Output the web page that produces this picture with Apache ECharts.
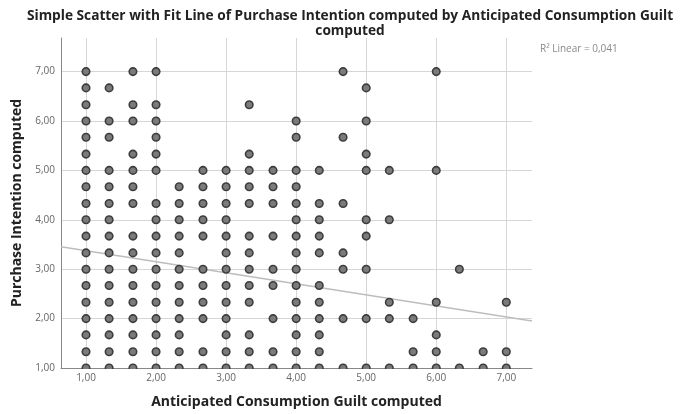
<!DOCTYPE html>
<html>
<head>
<meta charset="utf-8">
<script src="https://cdn.jsdelivr.net/npm/echarts@6/dist/echarts.min.js"></script>
<style>
  html, body { margin: 0; padding: 0; background: #fff; }
  #chart { width: 680px; height: 414px; }
</style>
</head>
<body>
<div id="chart"></div>
<script>
// Purchase Intention (y) against Anticipated Consumption Guilt (x).
// Each row lists the guilt scores observed at one intention level.
const rowLevels = [7.00, 6.67, 6.33, 6.00, 5.67, 5.33, 5.00, 4.67, 4.33, 4.00,
                   3.67, 3.33, 3.00, 2.67, 2.33, 2.00, 1.67, 1.33, 1.00];
const guiltByRow = [
  [1, 1.67, 2, 4.67, 6],
  [1, 1.33, 5],
  [1, 1.67, 2, 3.33],
  [1, 1.33, 1.67, 2, 4, 5],
  [1, 1.33, 2, 4, 4.67],
  [1, 1.67, 2, 3.33, 5],
  [1, 1.33, 1.67, 2, 2.67, 3, 3.33, 3.67, 4, 4.33, 5, 5.33, 6],
  [1, 1.33, 1.67, 2.33, 2.67, 3, 3.33, 3.67, 4],
  [1, 1.33, 1.67, 2, 2.33, 2.67, 3, 3.33, 3.67, 4, 4.33, 4.67],
  [1, 1.33, 2, 2.33, 2.67, 3, 4, 4.33, 5, 5.33],
  [1, 1.33, 1.67, 2, 2.33, 2.67, 3, 3.33, 3.67, 4, 4.33, 5],
  [1, 1.33, 1.67, 2, 2.33, 3, 3.33, 4, 4.33, 4.67],
  [1, 1.33, 1.67, 2, 2.33, 2.67, 3, 3.33, 3.67, 4, 4.67, 5, 6.33],
  [1, 1.33, 1.67, 2, 2.33, 2.67, 3, 3.33, 3.67, 4, 4.33],
  [1, 1.33, 1.67, 2, 2.33, 2.67, 3, 3.33, 4, 4.33, 5.33, 6, 7],
  [1, 1.33, 1.67, 2, 2.33, 2.67, 3, 3.67, 4, 4.33, 4.67, 5, 5.33, 5.67],
  [1, 1.33, 1.67, 2, 2.33, 3, 3.33, 4, 4.33, 6],
  [1, 1.33, 1.67, 2, 2.33, 2.67, 3, 3.33, 3.67, 4, 4.33, 5.67, 6, 6.67, 7],
  [1, 1.33, 1.67, 2, 2.33, 2.67, 3, 3.33, 3.67, 4, 4.33, 4.67, 5, 5.33, 5.67, 6, 6.33, 6.67, 7]
];

// Linear fit: intention = intercept + slope * guilt
const fitIntercept = 3.60;
const fitSlope = -0.224;
const rSquaredText = 'R\u00B2 Linear = 0,041';

const xTicks = [1, 2, 3, 4, 5, 6, 7];
const yTicks = [1, 2, 3, 4, 5, 6, 7];
const xRange = [0.643, 7.367];
const yRange = [1, 7.68];

const points = [];
rowLevels.forEach((y, i) => {
  guiltByRow[i].forEach(x => points.push([x, y]));
});
const fitLine = xRange.map(x => [x, fitIntercept + fitSlope * x]);

const fmt = v => Number(v).toFixed(2).replace('.', ',');
const labelFont = { color: '#666', fontSize: 10, fontFamily: 'Open Sans' };
const nameFont = { color: '#222', fontSize: 14, fontWeight: 'bold', fontFamily: 'Open Sans' };
const gridLine = { show: true, lineStyle: { color: '#d6d6d6', width: 1 } };

const chart = echarts.init(document.getElementById('chart'), null, { renderer: 'canvas' });
chart.setOption({
  animation: false,
  backgroundColor: '#fff',
  title: [
    {
      text: 'Simple Scatter with Fit Line of Purchase Intention computed by Anticipated Consumption Guilt\ncomputed',
      left: 345, top: 4, textAlign: 'center',
      textStyle: { color: '#222', fontSize: 13.7, fontWeight: 'bold', fontFamily: 'Open Sans', lineHeight: 15 }
    },
    {
      text: rSquaredText,
      left: 535, top: 39,
      textStyle: { color: '#888', fontSize: 10, fontWeight: 'normal', fontFamily: 'Open Sans' }
    }
  ],
  grid: { left: 61, right: 148, top: 38, bottom: 44 },
  xAxis: {
    type: 'value',
    min: xRange[0], max: xRange[1],
    name: 'Anticipated Consumption Guilt computed',
    nameLocation: 'middle', nameGap: 27, nameTextStyle: nameFont,
    axisLine: { show: true, lineStyle: { color: '#888', width: 1 } },
    axisTick: { show: false, customValues: xTicks },
    axisLabel: Object.assign({ customValues: xTicks, formatter: fmt, margin: 5 }, labelFont),
    splitLine: gridLine
  },
  yAxis: {
    type: 'value',
    min: yRange[0], max: yRange[1],
    name: 'Purchase Intention computed',
    nameLocation: 'middle', nameGap: 34, nameTextStyle: nameFont,
    axisLine: { show: true, lineStyle: { color: '#888', width: 1 } },
    axisTick: { show: false, customValues: yTicks },
    axisLabel: Object.assign({ customValues: yTicks, formatter: fmt, margin: 6 }, labelFont),
    splitLine: gridLine
  },
  series: [
    {
      type: 'line',
      data: fitLine,
      symbol: 'none',
      clip: true,
      z: 1,
      lineStyle: { color: '#bdbdbd', width: 1.5 }
    },
    {
      type: 'scatter',
      data: points,
      symbol: 'circle',
      symbolSize: 7.5,
      clip: true,
      z: 2,
      itemStyle: { color: '#7b7b7b', borderColor: '#3d3d3d', borderWidth: 1.6, opacity: 1 }
    }
  ]
});

// Markers sitting on the lower bound are cut at the plot edge: a thin white
// band just under the x axis line hides their lower halves.
const leftPx = chart.convertToPixel({ gridIndex: 0 }, [xRange[0], yRange[0]]);
const rightPx = chart.convertToPixel({ gridIndex: 0 }, [xRange[1], yRange[0]]);
chart.setOption({
  graphic: [{
    type: 'rect',
    z: 3,
    silent: true,
    shape: { x: leftPx[0] + 1, y: leftPx[1] + 1, width: rightPx[0] - leftPx[0] + 6, height: 4 },
    style: { fill: '#fff' }
  }]
});
</script>
</body>
</html>
